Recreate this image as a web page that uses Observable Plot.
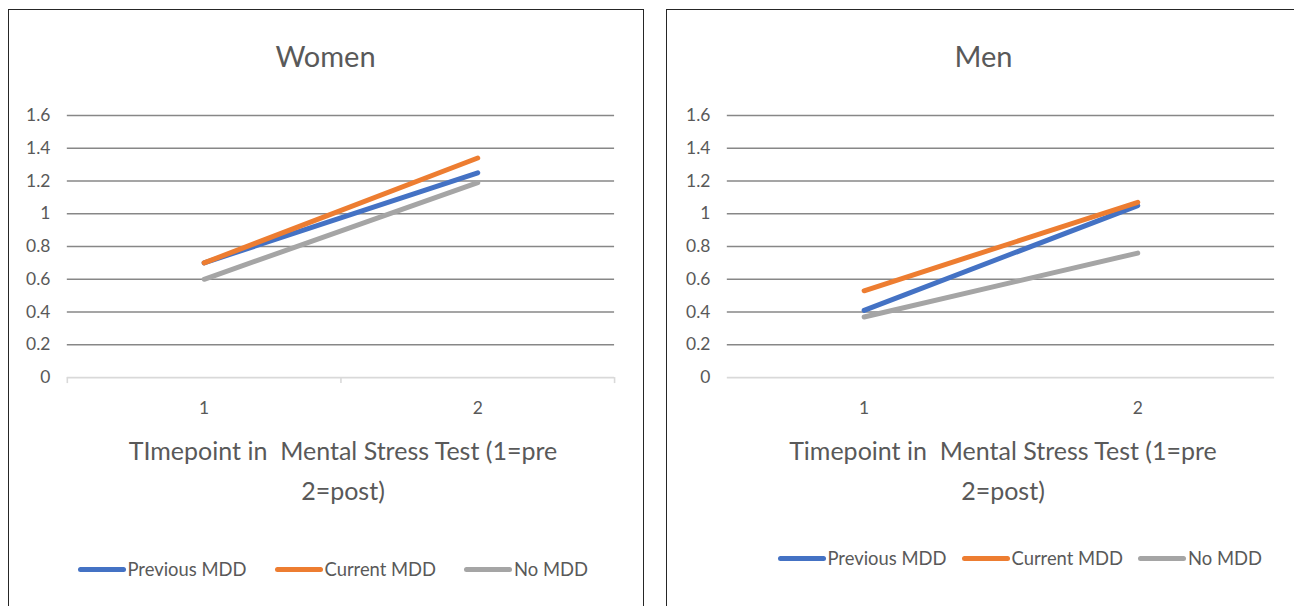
<!DOCTYPE html>
<html>
<head>
<meta charset="utf-8">
<script src="https://cdn.jsdelivr.net/npm/d3@7"></script>
<script src="https://cdn.jsdelivr.net/npm/@observablehq/plot@0.6"></script>
<style>
  html, body { margin: 0; padding: 0; background: #fff; overflow: hidden; }
  body { width: 1294px; height: 606px; position: relative; font-family: Lato, "Open Sans", sans-serif; color: #595959; }
  .panel { position: absolute; top: 9px; width: 636px; height: 640px; border: 1.5px solid #262626; box-sizing: border-box; background: #fff; }
  .title { position: absolute; left: 0; right: 0; top: 26px; text-align: center; font-size: 29px; line-height: 40px; }
  .xtitle { position: absolute; left: 0; top: 420px; text-align: center; font-size: 25px; line-height: 40px; white-space: pre; }
  .legend { position: absolute; display: flex; align-items: center; font-size: 18.4px; white-space: nowrap; }
  .legend .item { display: flex; align-items: center; }
  .legend .swatch { display: inline-block; width: 48px; height: 5px; border-radius: 3px; margin-right: 2px; }
</style>
</head>
<body>
<script>
// Two timepoints of the mental stress test: 1 = pre, 2 = post
const timepoints = [1, 2];
const groups = ["Previous MDD", "Current MDD", "No MDD"];
const groupColors = ["#4472C4", "#ED7D31", "#A5A5A5"];

// Women
const womenPrevious = [0.70, 1.25];
const womenCurrent = [0.70, 1.34];
const womenNone = [0.60, 1.19];

// Men
const menPrevious = [0.41, 1.05];
const menCurrent = [0.53, 1.07];
const menNone = [0.37, 0.76];

// Value axis ticks
const yTicks = [0, 0.2, 0.4, 0.6, 0.8, 1, 1.2, 1.4, 1.6];
const yTickLabels = ["0", "0.2", "0.4", "0.6", "0.8", "1", "1.2", "1.4", "1.6"];
// Category boundaries on the horizontal axis (between and around the two timepoints)
const categoryEdges = [0.5, 1.5, 2.5];

function toRows(seriesList) {
  const rows = [];
  seriesList.forEach((values, i) => {
    values.forEach((v, j) => rows.push({group: groups[i], time: timepoints[j], value: v}));
  });
  return rows;
}

function drawPanel({left, title, xTitle, seriesList, legendLeft, legendTop, legendGap, edgeTicks, plotLeft, plotRight}) {
  const panel = document.createElement("div");
  panel.className = "panel";
  panel.style.left = left + "px";
  document.body.appendChild(panel);

  const t = document.createElement("div");
  t.className = "title";
  t.textContent = title;
  panel.appendChild(t);

  const width = 636;
  const rows = toRows(seriesList);
  const marks = [
    Plot.ruleY(yTicks.filter(d => d > 0), {stroke: "#878787", strokeWidth: 1.6}),
    Plot.ruleY([0], {stroke: "#d9d9d9", strokeWidth: 1.6}),
    Plot.axisY({ticks: yTicks, tickSize: 0, tickPadding: 17, fontSize: 17.5,
      tickFormat: d => yTickLabels[yTicks.indexOf(d)], label: null}),
    Plot.axisX({ticks: timepoints, tickSize: 0, tickPadding: 24, fontSize: 17.5,
      tickFormat: d => String(d), label: null})
  ];
  if (edgeTicks) {
    marks.push(Plot.axisX({ticks: categoryEdges, tickSize: 6, tickFormat: () => "", label: null,
      stroke: "#d9d9d9", strokeWidth: 1.6}));
  }
  marks.push(Plot.line(rows, {x: "time", y: "value", z: "group", stroke: "group",
    strokeWidth: 5, strokeLinecap: "round", strokeLinejoin: "round"}));

  const chart = Plot.plot({
    width,
    height: 328,
    marginTop: 20,
    marginBottom: 45,
    marginLeft: plotLeft,
    marginRight: width - plotRight,
    style: {fontFamily: "Lato, 'Open Sans', sans-serif", color: "#595959", background: "transparent", overflow: "visible"},
    x: {domain: [0.5, 2.5], axis: null},
    y: {domain: [0, 1.6], axis: null},
    color: {domain: groups, range: groupColors},
    marks
  });
  chart.style.position = "absolute";
  chart.style.left = "-1.5px";
  chart.style.top = "84.5px";
  panel.appendChild(chart);

  const xt = document.createElement("div");
  xt.className = "xtitle";
  xt.style.left = plotLeft + "px";
  xt.style.width = (plotRight - plotLeft) + "px";
  xt.textContent = xTitle;
  panel.appendChild(xt);

  const lg = document.createElement("div");
  lg.className = "legend";
  lg.style.left = legendLeft + "px";
  lg.style.top = legendTop + "px";
  groups.forEach((g, i) => {
    const item = document.createElement("span");
    item.className = "item";
    item.style.marginRight = i < groups.length - 1 ? legendGap + "px" : "0";
    const sw = document.createElement("span");
    sw.className = "swatch";
    sw.style.background = groupColors[i];
    const lab = document.createElement("span");
    lab.textContent = g;
    item.appendChild(sw);
    item.appendChild(lab);
    lg.appendChild(item);
  });
  panel.appendChild(lg);
}

drawPanel({
  left: 7.5,
  title: "Women",
  xTitle: "TImepoint in  Mental Stress Test (1=pre\n2=post)",
  seriesList: [womenPrevious, womenCurrent, womenNone],
  legendLeft: 69, legendTop: 548, legendGap: 28,
  edgeTicks: true,
  plotLeft: 60, plotRight: 609
});

drawPanel({
  left: 665.5,
  title: "Men",
  xTitle: "Timepoint in  Mental Stress Test (1=pre\n2=post)",
  seriesList: [menPrevious, menCurrent, menNone],
  legendLeft: 111, legendTop: 537, legendGap: 15,
  edgeTicks: false,
  plotLeft: 62, plotRight: 611
});
</script>
</body>
</html>
